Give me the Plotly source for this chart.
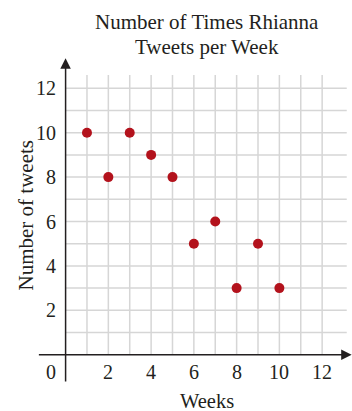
import plotly.graph_objects as go

weeks = [1, 2, 3, 4, 5, 6, 7, 8, 9, 10]
tweets = [10, 8, 10, 9, 8, 5, 6, 3, 5, 3]
x_ticks = [2, 4, 6, 8, 10, 12]
y_ticks = [2, 4, 6, 8, 10, 12]
grid_vals = list(range(1, 13))
title_lines = ["Number of Times Rhianna", "Tweets per Week"]
x_title = "Weeks"
y_title = "Number of tweets"

FONT = "Liberation Serif, Times New Roman, serif"
TXT = "#231f20"
GRID = "#d6d6d6"

fig = go.Figure()
fig.add_trace(go.Scatter(x=weeks, y=tweets, mode="markers",
                         marker=dict(size=10, color="#b3121c"),
                         hoverinfo="x+y", showlegend=False))

shapes = []
for g in grid_vals:
    shapes.append(dict(type="line", xref="x", yref="y", x0=0, x1=13.15, y0=g, y1=g,
                       line=dict(color=GRID, width=1.5), layer="below"))
    shapes.append(dict(type="line", xref="x", yref="y", x0=g, x1=g, y0=0, y1=12.6,
                       line=dict(color=GRID, width=1.5), layer="below"))

ann = []
# axes with arrows
ann.append(dict(x=13.38, y=0, ax=-1.32, ay=0, xref="x", yref="y", axref="x", ayref="y",
                showarrow=True, arrowhead=2, arrowsize=1.4, arrowwidth=1.5,
                arrowcolor=TXT, text=""))
ann.append(dict(x=0, y=13.35, ax=0, ay=-1.27, xref="x", yref="y", axref="x", ayref="y",
                showarrow=True, arrowhead=2, arrowsize=1.4, arrowwidth=1.5,
                arrowcolor=TXT, text=""))
for t in y_ticks:
    ann.append(dict(x=-0.36, y=t, xref="x", yref="y", text=str(t), showarrow=False,
                    xanchor="right", yanchor="middle", font=dict(family=FONT, size=20, color=TXT)))
for t in x_ticks:
    ann.append(dict(x=t, y=-0.8, xref="x", yref="y", text=str(t), showarrow=False,
                    xanchor="center", yanchor="middle", font=dict(family=FONT, size=20, color=TXT)))
ann.append(dict(x=-0.697, y=-0.8, xref="x", yref="y", text="0", showarrow=False,
                xanchor="center", yanchor="middle", font=dict(family=FONT, size=20, color=TXT)))
for line, ypx in zip(title_lines, [22.0, 46.5]):
    ann.append(dict(x=207/352, y=1-ypx/411, xref="paper", yref="paper", text=line,
                    showarrow=False, xanchor="center", yanchor="middle",
                    font=dict(family=FONT, size=21, color=TXT)))
ann.append(dict(x=207/352, y=1-400.5/411, xref="paper", yref="paper", text=x_title,
                showarrow=False, xanchor="center", yanchor="middle",
                font=dict(family=FONT, size=20.5, color=TXT)))
ann.append(dict(x=25/352, y=1-215.5/411, xref="paper", yref="paper", text=y_title,
                showarrow=False, xanchor="center", yanchor="middle", textangle=-90,
                font=dict(family=FONT, size=21, color=TXT)))

fig.update_layout(
    width=352, height=411,
    margin=dict(l=0, r=0, t=0, b=0, pad=0),
    paper_bgcolor="white", plot_bgcolor="white",
    xaxis=dict(range=[-3.068, 13.396], visible=False, fixedrange=True),
    yaxis=dict(range=[-2.536, 15.977], visible=False, fixedrange=True),
    shapes=shapes, annotations=ann,
)

fig.write_html("out.html", config={"displayModeBar": False},
               post_script="document.body.style.margin='0';document.body.style.overflow='hidden';")
